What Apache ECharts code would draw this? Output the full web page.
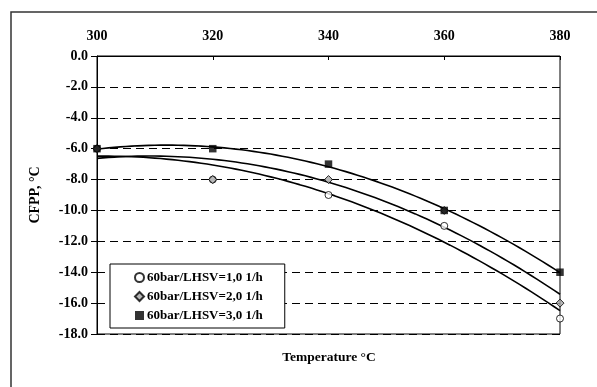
<!DOCTYPE html>
<html>
<head>
<meta charset="utf-8">
<script src="https://cdn.jsdelivr.net/npm/echarts@6/dist/echarts.min.js"></script>
<style>
  html, body { margin: 0; padding: 0; background: #fff; }
  #chart { width: 597px; height: 387px; }
</style>
</head>
<body>
<div id="chart"></div>
<script>
// Reaction temperature (°C)
const temperatures = [300, 320, 340, 360, 380];
// CFPP (°C) for each space velocity at 60 bar
const seriesNames = ['60bar/LHSV=1,0 1/h', '60bar/LHSV=2,0 1/h', '60bar/LHSV=3,0 1/h'];
const cfppLhsv1 = [-6, -8, -9, -11, -17];
const cfppLhsv2 = [-6, -8, -8, -10, -16];
const cfppLhsv3 = [-6, -6, -7, -10, -14];

// Second-order least-squares trend through (x, y)
function quadFit(xs, ys) {
  const n = xs.length;
  const s = [0, 0, 0, 0, 0], t = [0, 0, 0];
  const x0 = 340;
  for (let i = 0; i < n; i++) {
    const x = xs[i] - x0;
    let p = 1;
    for (let k = 0; k < 5; k++) { s[k] += p; p *= x; }
    t[0] += ys[i]; t[1] += ys[i] * x; t[2] += ys[i] * x * x;
  }
  const A = [[s[0], s[1], s[2]], [s[1], s[2], s[3]], [s[2], s[3], s[4]]];
  const det = m => m[0][0]*(m[1][1]*m[2][2]-m[1][2]*m[2][1]) - m[0][1]*(m[1][0]*m[2][2]-m[1][2]*m[2][0]) + m[0][2]*(m[1][0]*m[2][1]-m[1][1]*m[2][0]);
  const D = det(A);
  const coef = [0, 1, 2].map(c => det(A.map((row, r) => row.map((v, j) => j === c ? t[r] : v))) / D);
  return x => { const u = x - x0; return coef[0] + coef[1] * u + coef[2] * u * u; };
}

function trendPoints(ys) {
  const f = quadFit(temperatures, ys);
  const pts = [];
  const lo = temperatures[0], hi = temperatures[temperatures.length - 1];
  for (let x = lo; x <= hi + 1e-9; x += 1) pts.push([x, f(x)]);
  return pts;
}

const fontFamily = '"Liberation Serif", "DejaVu Serif", serif';
const labelFont = { fontFamily, fontWeight: 'bold', fontSize: 14, color: '#000' };
const pairs = ys => temperatures.map((x, i) => [x, ys[i]]);

const markerStyles = [
  { symbol: 'circle', symbolSize: 7, itemStyle: { color: '#ffffff', borderColor: '#000', borderWidth: 1 } },
  { symbol: 'diamond', symbolSize: 8, itemStyle: { color: '#a6a6a6', borderColor: '#000', borderWidth: 1 } },
  { symbol: 'rect', symbolSize: 7.5, itemStyle: { color: '#000', borderColor: '#000', borderWidth: 0 } }
];
const allValues = [cfppLhsv1, cfppLhsv2, cfppLhsv3];

const series = [];
allValues.forEach((ys, i) => {
  series.push({
    type: 'line',
    name: seriesNames[i] + ' trend',
    data: trendPoints(ys),
    showSymbol: false,
    symbol: 'none',
    silent: true,
    lineStyle: { color: '#000', width: 1.6 },
    z: 2
  });
});
allValues.forEach((ys, i) => {
  series.push(Object.assign({
    type: 'scatter',
    name: seriesNames[i],
    data: pairs(ys),
    z: 3
  }, markerStyles[i]));
});

const chart = echarts.init(document.getElementById('chart'), null, { renderer: 'canvas' });
chart.setOption({
  animation: false,
  backgroundColor: '#fff',
  graphic: [{
    // outer chart frame
    type: 'rect',
    shape: { x: 11, y: 12, width: 700, height: 500 },
    style: { fill: 'none', stroke: '#333', lineWidth: 1.5 },
    silent: true
  }, {
    // x-axis title below the plot
    type: 'text',
    x: 329, y: 358,
    style: {
      text: 'Temperature °C',
      font: 'bold 13.5px "Liberation Serif", serif',
      fill: '#000',
      textAlign: 'center',
      textVerticalAlign: 'middle'
    },
    silent: true
  }],
  grid: {
    left: 97, right: 37, top: 56, bottom: 53,
    show: true, borderColor: '#000', borderWidth: 1, backgroundColor: 'transparent'
  },
  legend: {
    data: seriesNames,
    orient: 'vertical',
    left: 110, top: 264,
    width: 173,
    padding: [7, 22, 6, 24],
    itemGap: 6,
    itemWidth: 9, itemHeight: 9,
    backgroundColor: '#fff',
    borderColor: '#000', borderWidth: 1,
    textStyle: { fontFamily, fontWeight: 'bold', fontSize: 13, color: '#000', padding: [0, 0, 0, -2] }
  },
  xAxis: {
    type: 'value',
    position: 'top',
    min: 300, max: 380, interval: 20,
    axisLine: { show: true, lineStyle: { color: '#000', width: 1 } },
    axisTick: { show: true, inside: true, length: 4, lineStyle: { color: '#000' } },
    axisLabel: Object.assign({ margin: 13 }, labelFont),
    splitLine: { show: false }
  },
  yAxis: {
    type: 'value',
    min: -18, max: 0, interval: 2,
    name: 'CFPP, °C',
    nameLocation: 'middle',
    nameGap: 55,
    nameTextStyle: labelFont,
    axisLine: { show: true, onZero: false, lineStyle: { color: '#000', width: 1 } },
    axisTick: { show: true, inside: false, length: 6, lineStyle: { color: '#000' } },
    axisLabel: Object.assign({ margin: 9, formatter: v => v.toFixed(1) }, labelFont),
    splitLine: { show: true, lineStyle: { color: '#000', type: [8, 5], width: 1 } }
  },
  series
});
</script>
</body>
</html>
